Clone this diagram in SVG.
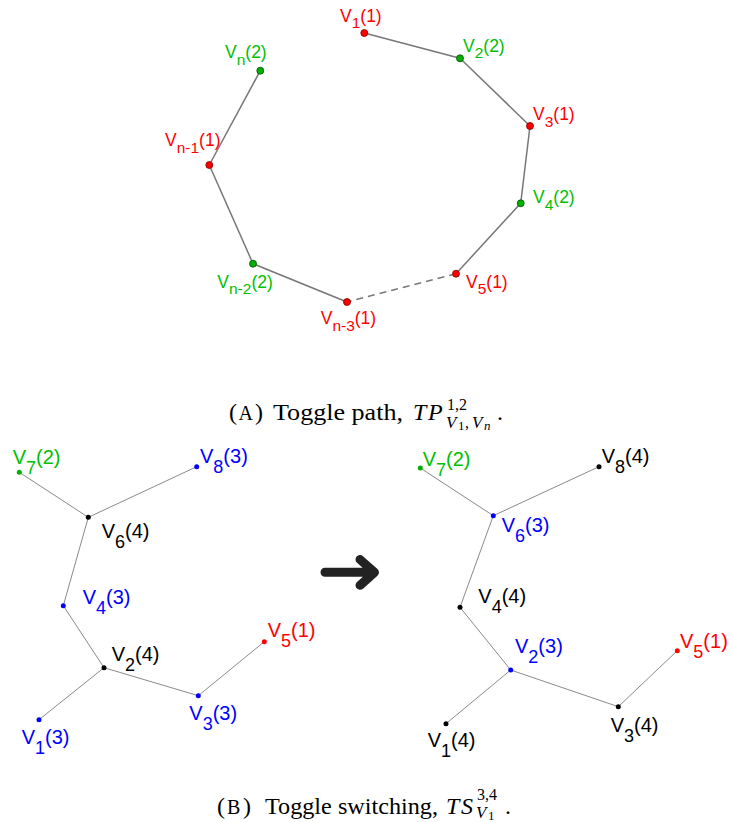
<svg xmlns="http://www.w3.org/2000/svg" width="732" height="822" viewBox="0 0 732 822">
<style>
.lt{font-family:"Liberation Sans",Arial,sans-serif;font-size:17.5px}
.lt .s{font-size:15.5px}
.lb{font-family:"Liberation Sans",Arial,sans-serif;font-size:20px}
.lb .s{font-size:18px}
.red{fill:#ff0000}
.grn{fill:#00c000}
.blu{fill:#0000ff}
.blk{fill:#000000}
.cap{font-family:"Liberation Serif","Times New Roman",serif;font-size:24px;fill:#000}
.sc{font-size:20px}
.it{font-style:italic}
.sm{font-size:16px}
.sv{font-size:17px;font-style:italic}
.xs{font-size:13px}
.et{stroke:#777;stroke-width:1.5;fill:none}
.eb{stroke:#8a8a8a;stroke-width:1;fill:none}
.nr{fill:#ff0000;stroke:#7a0000;stroke-width:0.8}
.ng{fill:#00b000;stroke:#005000;stroke-width:0.8}
.br{fill:#ff0000}
.bg{fill:#00b000}
.bb{fill:#0000ff}
.bk{fill:#000}
</style>
<g id="connectors">
  <line class="et" x1="364.3" y1="33" x2="460" y2="58.3"/>
  <line class="et" x1="460" y1="58.3" x2="530" y2="126"/>
  <line class="et" x1="530" y1="126" x2="520.7" y2="203.3"/>
  <line class="et" x1="520.7" y1="203.3" x2="456" y2="273.7"/>
  <line class="et" x1="456" y1="273.7" x2="347" y2="302" stroke-dasharray="7,5"/>
  <line class="et" x1="347" y1="302" x2="253" y2="263.7"/>
  <line class="et" x1="253" y1="263.7" x2="209.3" y2="165"/>
  <line class="et" x1="209.3" y1="165" x2="260.3" y2="70.7"/>
  <line class="eb" x1="19.3" y1="472.3" x2="88.3" y2="517.3"/>
  <line class="eb" x1="196.7" y1="466.7" x2="88.3" y2="517.3"/>
  <line class="eb" x1="88.3" y1="517.3" x2="63.3" y2="605.7"/>
  <line class="eb" x1="63.3" y1="605.7" x2="104" y2="667.7"/>
  <line class="eb" x1="104" y1="667.7" x2="39" y2="719.7"/>
  <line class="eb" x1="104" y1="667.7" x2="198.3" y2="695.7"/>
  <line class="eb" x1="198.3" y1="695.7" x2="264.3" y2="641.7"/>
  <line class="eb" x1="420.3" y1="468" x2="493.3" y2="515.7"/>
  <line class="eb" x1="599" y1="466.7" x2="493.3" y2="515.7"/>
  <line class="eb" x1="493.3" y1="515.7" x2="460" y2="607.3"/>
  <line class="eb" x1="460" y1="607.3" x2="510.7" y2="670"/>
  <line class="eb" x1="510.7" y1="670" x2="446" y2="723.7"/>
  <line class="eb" x1="510.7" y1="670" x2="618.3" y2="706.7"/>
  <line class="eb" x1="618.3" y1="706.7" x2="677.3" y2="650.7"/>
  <path d="M325,572.3 H374 M360,559.5 L374.5,572.3 L360,585.3" fill="none" stroke="#222" stroke-width="9" stroke-linecap="round" stroke-linejoin="round"/>
</g>
<g id="top-V1"><circle class="nr" cx="364.3" cy="33" r="3.5"/><text class="lt red" x="340" y="21.7">V<tspan class="s" dy="6.5">1</tspan><tspan dy="-6.5">(1)</tspan></text></g>
<g id="top-V2"><circle class="ng" cx="460" cy="58.3" r="3.5"/><text class="lt grn" x="463" y="51.7">V<tspan class="s" dy="6.5">2</tspan><tspan dy="-6.5">(2)</tspan></text></g>
<g id="top-V3"><circle class="nr" cx="530" cy="126" r="3.5"/><text class="lt red" x="533" y="120">V<tspan class="s" dy="6.5">3</tspan><tspan dy="-6.5">(1)</tspan></text></g>
<g id="top-V4"><circle class="ng" cx="520.7" cy="203.3" r="3.5"/><text class="lt grn" x="533" y="203">V<tspan class="s" dy="6.5">4</tspan><tspan dy="-6.5">(2)</tspan></text></g>
<g id="top-V5"><circle class="nr" cx="456" cy="273.7" r="3.5"/><text class="lt red" x="466" y="287.7">V<tspan class="s" dy="6.5">5</tspan><tspan dy="-6.5">(1)</tspan></text></g>
<g id="top-Vn3"><circle class="nr" cx="347" cy="302" r="3.5"/><text class="lt red" x="320.7" y="324">V<tspan class="s" dy="6.5">n-3</tspan><tspan dy="-6.5">(1)</tspan></text></g>
<g id="top-Vn2"><circle class="ng" cx="253" cy="263.7" r="3.5"/><text class="lt grn" x="217.3" y="287.7">V<tspan class="s" dy="6.5">n-2</tspan><tspan dy="-6.5">(2)</tspan></text></g>
<g id="top-Vn1"><circle class="nr" cx="209.3" cy="165" r="3.5"/><text class="lt red" x="165" y="146">V<tspan class="s" dy="6.5">n-1</tspan><tspan dy="-6.5">(1)</tspan></text></g>
<g id="top-Vn"><circle class="ng" cx="260.3" cy="70.7" r="3.5"/><text class="lt grn" x="225" y="58.3">V<tspan class="s" dy="6.5">n</tspan><tspan dy="-6.5">(2)</tspan></text></g>
<g id="capA">
  <text class="cap" y="420"><tspan x="229">(</tspan><tspan class="sc" x="238.5">A</tspan><tspan x="255">)</tspan></text>
  <text class="cap" x="273" y="420" textLength="130" lengthAdjust="spacingAndGlyphs">Toggle path,</text>
  <text class="cap it" y="420" font-size="25"><tspan x="413">T</tspan><tspan x="428">P</tspan></text>
  <text class="cap sm" x="447" y="410">1,2</text>
  <text class="cap" y="428"><tspan class="sv" x="446">V</tspan><tspan class="xs" x="458" dy="2">1</tspan><tspan class="sm" x="465" dy="-2">,</tspan><tspan class="sv" x="472">V</tspan><tspan class="xs it" x="484" dy="2">n</tspan></text>
  <text class="cap" x="497" y="420">.</text>
</g>
<g id="L-V7"><circle class="bg" cx="19.3" cy="472.3" r="2.5"/><text class="lb grn" x="12.7" y="464">V<tspan class="s" dy="10">7</tspan><tspan dy="-10">(2)</tspan></text></g>
<g id="L-V8"><circle class="bb" cx="196.7" cy="466.7" r="2.5"/><text class="lb blu" x="200" y="463">V<tspan class="s" dy="10">8</tspan><tspan dy="-10">(3)</tspan></text></g>
<g id="L-V6"><circle class="bk" cx="88.3" cy="517.3" r="2.5"/><text class="lb blk" x="101.7" y="538">V<tspan class="s" dy="10">6</tspan><tspan dy="-10">(4)</tspan></text></g>
<g id="L-V4"><circle class="bb" cx="63.3" cy="605.7" r="2.5"/><text class="lb blu" x="82.7" y="604">V<tspan class="s" dy="10">4</tspan><tspan dy="-10">(3)</tspan></text></g>
<g id="L-V2"><circle class="bk" cx="104" cy="667.7" r="2.5"/><text class="lb blk" x="111.7" y="660.7">V<tspan class="s" dy="10">2</tspan><tspan dy="-10">(4)</tspan></text></g>
<g id="L-V5"><circle class="br" cx="264.3" cy="641.7" r="2.5"/><text class="lb red" x="267.7" y="636.7">V<tspan class="s" dy="10">5</tspan><tspan dy="-10">(1)</tspan></text></g>
<g id="L-V3"><circle class="bb" cx="198.3" cy="695.7" r="2.5"/><text class="lb blu" x="189.3" y="720">V<tspan class="s" dy="10">3</tspan><tspan dy="-10">(3)</tspan></text></g>
<g id="L-V1"><circle class="bb" cx="39" cy="719.7" r="2.5"/><text class="lb blu" x="21.7" y="744">V<tspan class="s" dy="10">1</tspan><tspan dy="-10">(3)</tspan></text></g>
<g id="R-V7"><circle class="bg" cx="420.3" cy="468" r="2.5"/><text class="lb grn" x="422.7" y="466">V<tspan class="s" dy="10">7</tspan><tspan dy="-10">(2)</tspan></text></g>
<g id="R-V8"><circle class="bk" cx="599" cy="466.7" r="2.5"/><text class="lb blk" x="601.7" y="463">V<tspan class="s" dy="10">8</tspan><tspan dy="-10">(4)</tspan></text></g>
<g id="R-V6"><circle class="bb" cx="493.3" cy="515.7" r="2.5"/><text class="lb blu" x="501.7" y="531.7">V<tspan class="s" dy="10">6</tspan><tspan dy="-10">(3)</tspan></text></g>
<g id="R-V4"><circle class="bk" cx="460" cy="607.3" r="2.5"/><text class="lb blk" x="478.3" y="603">V<tspan class="s" dy="10">4</tspan><tspan dy="-10">(4)</tspan></text></g>
<g id="R-V2"><circle class="bb" cx="510.7" cy="670" r="2.5"/><text class="lb blu" x="515" y="652.7">V<tspan class="s" dy="10">2</tspan><tspan dy="-10">(3)</tspan></text></g>
<g id="R-V5"><circle class="br" cx="677.3" cy="650.7" r="2.5"/><text class="lb red" x="680" y="648">V<tspan class="s" dy="10">5</tspan><tspan dy="-10">(1)</tspan></text></g>
<g id="R-V3"><circle class="bk" cx="618.3" cy="706.7" r="2.5"/><text class="lb blk" x="610.7" y="731.7">V<tspan class="s" dy="10">3</tspan><tspan dy="-10">(4)</tspan></text></g>
<g id="R-V1"><circle class="bk" cx="446" cy="723.7" r="2.5"/><text class="lb blk" x="427.7" y="747">V<tspan class="s" dy="10">1</tspan><tspan dy="-10">(4)</tspan></text></g>
<g id="capB">
  <text class="cap" y="814"><tspan x="217">(</tspan><tspan class="sc" x="227">B</tspan><tspan x="243">)</tspan></text>
  <text class="cap" x="265" y="814" textLength="173" lengthAdjust="spacingAndGlyphs">Toggle switching,</text>
  <text class="cap it" y="814" font-size="25"><tspan x="446">T</tspan><tspan x="461">S</tspan></text>
  <text class="cap sm" x="477" y="800">3,4</text>
  <text class="cap" y="818"><tspan class="sv" x="476">V</tspan><tspan class="xs" x="488" dy="2">1</tspan></text>
  <text class="cap" x="505" y="814">.</text>
</g>
</svg>
